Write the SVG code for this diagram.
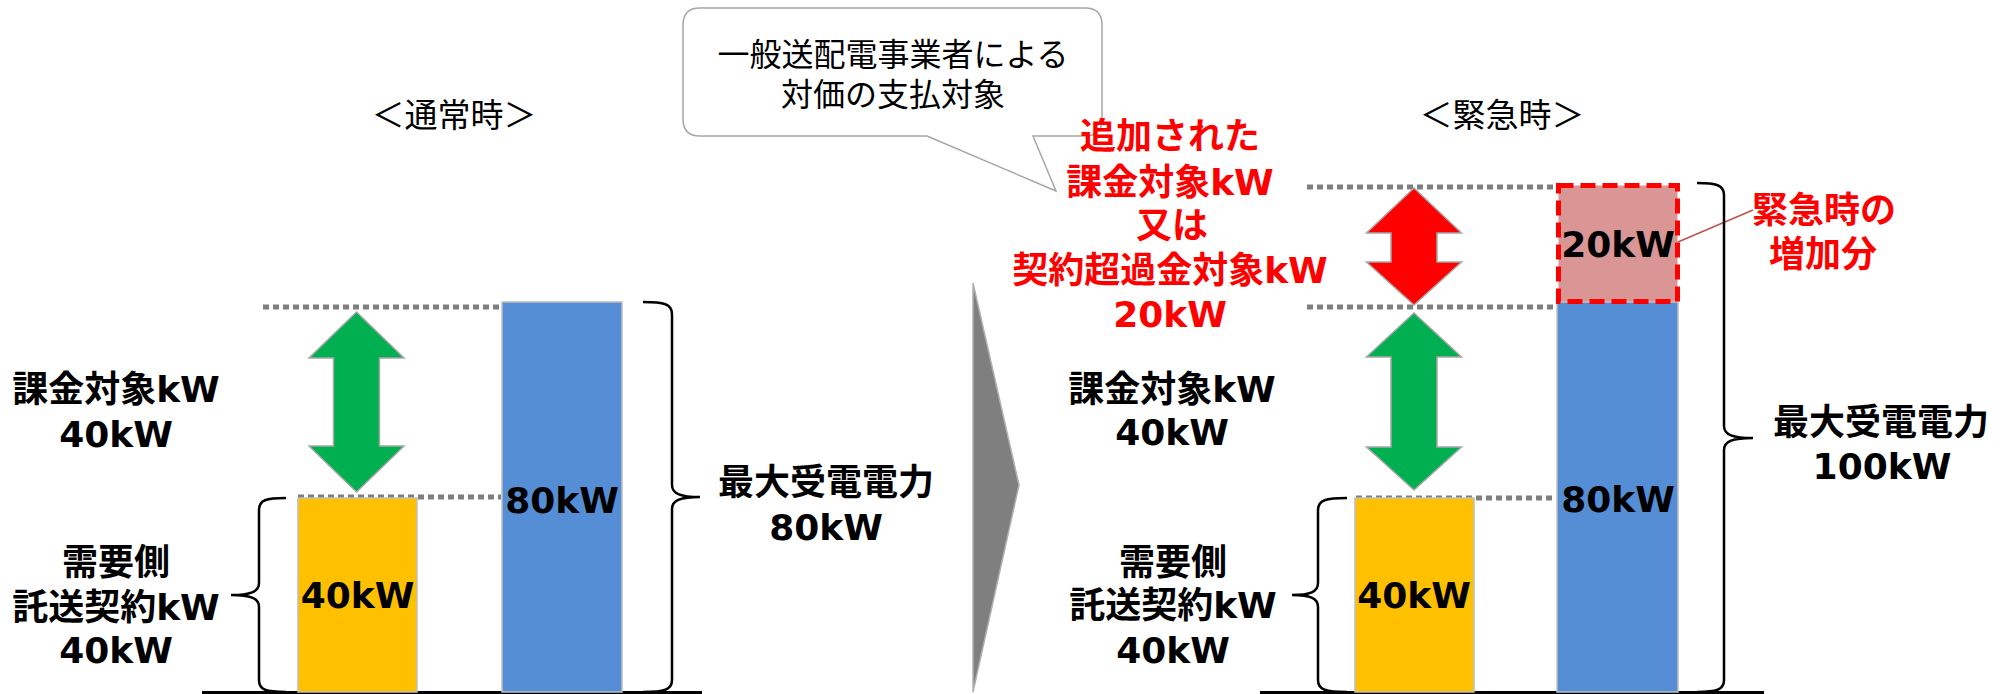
<svg xmlns="http://www.w3.org/2000/svg" width="2007" height="694" viewBox="0 0 2007 694">
<style>
.lbl{font-family:"DejaVu Sans","Noto Sans CJK JP",sans-serif;font-weight:bold;font-size:36px;text-anchor:middle;fill:#000}
.red{fill:#ff0000}
.ttl{font-family:"Noto Sans CJK JP",sans-serif;font-size:33px;text-anchor:middle;fill:#000}
.call{font-family:"Noto Sans CJK JP",sans-serif;font-size:32px;text-anchor:middle;fill:#000}
.dot{stroke:#7f7f7f;stroke-width:5;stroke-dasharray:6 4;fill:none}
.brace{fill:none;stroke:#000;stroke-width:2.5}
.base{stroke:#000;stroke-width:3}
.bar{stroke:#bfbfbf;stroke-width:1.5}
.arr{stroke:#a6a6a6;stroke-width:1.5}
</style>
<rect width="2007" height="694" fill="#fff"/>

<g id="callout">
<path d="M700,8 L1085,8 Q1102,8 1102,25 L1102,119 Q1102,136 1085,136 L1033,136 L1056,191 L927,136 L700,136 Q683,136 683,119 L683,25 Q683,8 700,8 Z" fill="#fff" stroke="#a6a6a6" stroke-width="1.5"/>
<text class="call" x="893" y="66">一般送配電事業者による</text>
<text class="call" x="893" y="106">対価の支払対象</text>
</g>

<g id="title-normal"><text class="ttl" x="454" y="127">＜通常時＞</text></g>
<g id="title-emergency"><text class="ttl" x="1502" y="127">＜緊急時＞</text></g>

<g id="connectors">
<line class="dot" x1="263" y1="307" x2="501" y2="307"/>
<line class="dot" x1="298" y1="497" x2="501" y2="497"/>
<line class="dot" x1="1307" y1="187" x2="1556" y2="187"/>
<line class="dot" x1="1307" y1="307" x2="1556" y2="307"/>
<line class="dot" x1="1356" y1="498" x2="1556" y2="498"/>
<line x1="1678" y1="242" x2="1753" y2="210" stroke="#c0504d" stroke-width="1.5"/>
<path class="brace" d="M286,498 C266,498 259,500 259,510 L259,583 C259,592 250,595 231,595 C250,595 259,598 259,607 L259,680 C259,690 266,692 286,692"/>
<path class="brace" d="M643,302 C664,302 672,304 672,314 L672,485 C672,494 681,497 700,497 C681,497 672,500 672,509 L672,680 C672,690 664,692 643,692"/>
<path class="brace" d="M1347,498 C1326,498 1318,500 1318,510 L1318,583 C1318,592 1310,595 1292,595 C1310,595 1318,598 1318,607 L1318,680 C1318,690 1326,692 1347,692"/>
<path class="brace" d="M1697,183 C1716,183 1724,185 1724,195 L1724,426 C1724,435 1733,438 1753,438 C1733,438 1724,441 1724,450 L1724,680 C1724,690 1716,692 1697,692"/>
<line class="base" x1="202" y1="692.5" x2="702" y2="692.5"/>
<line class="base" x1="1260" y1="692.5" x2="1764" y2="692.5"/>
</g>

<g id="arrow-green-left"><path class="arr" fill="#00b050" d="M356.5,312 L404,358 L379.5,358 L379.5,446 L404,446 L356.5,492 L309,446 L333.5,446 L333.5,358 L309,358 Z"/></g>
<g id="arrow-green-right"><path class="arr" fill="#00b050" d="M1414,313 L1461.5,357 L1437,357 L1437,447 L1461.5,447 L1414,490 L1366.5,447 L1391,447 L1391,357 L1366.5,357 Z"/></g>
<g id="arrow-red"><path class="arr" fill="#ff0000" d="M1414,188 L1461.5,233 L1437,233 L1437,262 L1461.5,262 L1414,305 L1366.5,262 L1391,262 L1391,233 L1366.5,233 Z"/></g>

<g id="chevron"><polygon points="973,283 1019,485 973,692" fill="#7f7f7f" stroke="#b0b0b0" stroke-width="1.5"/></g>

<g id="bar-yellow-left">
<rect class="bar" x="298" y="498" width="119" height="194" fill="#ffc000"/>
<text class="lbl" x="357.5" y="608">40kW</text>
</g>
<g id="bar-blue-left">
<rect class="bar" x="502" y="302" width="120" height="390" fill="#558ed5"/>
<text class="lbl" x="562" y="513">80kW</text>
</g>
<g id="bar-yellow-right">
<rect class="bar" x="1355" y="498" width="119" height="194" fill="#ffc000"/>
<text class="lbl" x="1414" y="608">40kW</text>
</g>
<g id="bar-blue-right">
<rect class="bar" x="1557" y="302" width="121" height="390" fill="#558ed5"/>
<text class="lbl" x="1618" y="512">80kW</text>
</g>
<g id="bar-increase">
<rect x="1558.5" y="185.5" width="119" height="116" fill="#d99694" stroke="#ff0000" stroke-width="5" stroke-dasharray="15 7"/>
<text class="lbl" x="1618" y="257">20kW</text>
</g>

<g id="label-charge-left">
<text class="lbl" x="116" y="402">課金対象kW</text>
<text class="lbl" x="116" y="447">40kW</text>
</g>
<g id="label-contract-left">
<text class="lbl" x="116" y="575">需要側</text>
<text class="lbl" x="116" y="620">託送契約kW</text>
<text class="lbl" x="116" y="663">40kW</text>
</g>
<g id="label-max-left">
<text class="lbl" x="826" y="495">最大受電電力</text>
<text class="lbl" x="826" y="540">80kW</text>
</g>
<g id="label-added">
<text class="lbl red" x="1170" y="149">追加された</text>
<text class="lbl red" x="1170" y="195">課金対象kW</text>
<text class="lbl red" x="1172" y="238">又は</text>
<text class="lbl red" x="1170" y="283">契約超過金対象kW</text>
<text class="lbl red" x="1170" y="327">20kW</text>
</g>
<g id="label-charge-right">
<text class="lbl" x="1172" y="402">課金対象kW</text>
<text class="lbl" x="1172" y="445">40kW</text>
</g>
<g id="label-contract-right">
<text class="lbl" x="1173" y="575">需要側</text>
<text class="lbl" x="1173" y="618">託送契約kW</text>
<text class="lbl" x="1173" y="663">40kW</text>
</g>
<g id="label-increase">
<text class="lbl red" x="1824" y="223">緊急時の</text>
<text class="lbl red" x="1823" y="267">増加分</text>
</g>
<g id="label-max-right">
<text class="lbl" x="1881" y="435">最大受電電力</text>
<text class="lbl" x="1882" y="479">100kW</text>
</g>
</svg>
